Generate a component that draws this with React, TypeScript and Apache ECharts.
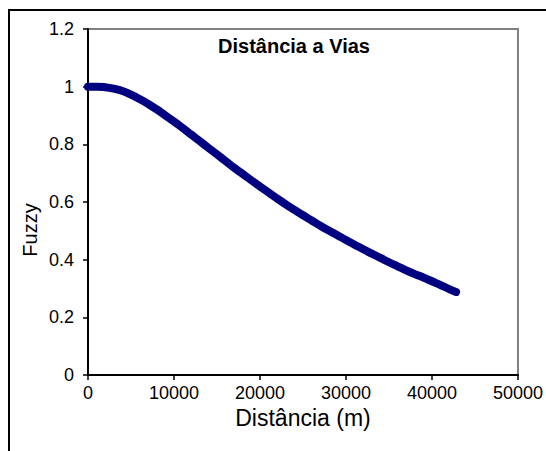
import React, { useEffect, useRef } from "react";
import * as echarts from "echarts";

const distances = [
  0, 1000, 2000, 3000, 4000, 5000, 6000, 7000, 8000, 9000, 10000, 11000, 12000,
  13000, 14000, 15000, 16000, 17000, 18000, 19000, 20000, 21000, 22000, 23000,
  24000, 25000, 26000, 27000, 28000, 29000, 30000, 31000, 32000, 33000, 34000,
  35000, 36000, 37000, 38000, 39000, 40000, 41000, 42000, 42800,
];
const fuzzy = [
  1.0, 1.0, 0.998, 0.993, 0.985, 0.972, 0.957, 0.94, 0.921, 0.9, 0.879, 0.857,
  0.834, 0.811, 0.788, 0.765, 0.742, 0.719, 0.697, 0.675, 0.654, 0.633, 0.612,
  0.592, 0.573, 0.554, 0.536, 0.518, 0.501, 0.485, 0.468, 0.452, 0.436, 0.421,
  0.406, 0.391, 0.377, 0.363, 0.35, 0.338, 0.325, 0.312, 0.298, 0.288,
];
const xTickLabels = ["0", "10000", "20000", "30000", "40000", "50000"];
const yTickLabels = ["0", "0.2", "0.4", "0.6", "0.8", "1", "1.2"];
const chartTitle = "Distância a Vias";
const xTitle = "Distância (m)";
const yTitle = "Fuzzy";

export default function App() {
  const ref = useRef<HTMLDivElement>(null);
  useEffect(() => {
    if (!ref.current) return;
    const chart = echarts.init(ref.current, null, { renderer: "svg" });
    const font = "'Liberation Sans', Arial, sans-serif";
    chart.setOption({
      animation: false,
      backgroundColor: "#ffffff",
      textStyle: { fontFamily: font },
      grid: {
        left: 88,
        top: 29,
        width: 435,
        height: 346,
        show: true,
        borderColor: "#808080",
        borderWidth: 2,
        backgroundColor: "#ffffff",
      },
      xAxis: {
        type: "value",
        min: 0,
        max: 50000,
        interval: 10000,
        axisLine: { show: true, onZero: false, lineStyle: { color: "#000", width: 2 } },
        axisTick: { show: true, inside: false, length: 5, lineStyle: { color: "#000", width: 1.5 } },
        axisLabel: {
          fontSize: 18,
          color: "#000",
          fontFamily: font,
          margin: 9,
          showMaxLabel: true,
          formatter: (v: number) => xTickLabels[Math.round(v / 10000)] ?? String(v),
        },
        splitLine: { show: false },
        name: xTitle,
        nameLocation: "middle",
        nameGap: 28,
        nameTextStyle: { fontSize: 23, color: "#000", fontFamily: font },
      },
      yAxis: {
        type: "value",
        min: 0,
        max: 1.2,
        interval: 0.2,
        axisLine: { show: true, onZero: false, lineStyle: { color: "#000", width: 2 } },
        axisTick: { show: true, inside: false, length: 5, lineStyle: { color: "#000", width: 1.5 } },
        axisLabel: {
          fontSize: 18,
          color: "#000",
          fontFamily: font,
          margin: 14,
          formatter: (v: number) => yTickLabels[Math.round(v / 0.2)] ?? String(v),
        },
        splitLine: { show: false },
      },
      graphic: [
        {
          type: "rect",
          silent: true,
          shape: { x: 9, y: 10, width: 600, height: 500 },
          style: { fill: "none", stroke: "#000", lineWidth: 2 },
          z: 100,
        },
        {
          type: "text",
          x: 294,
          y: 46,
          style: {
            text: chartTitle,
            font: `bold 20px ${font}`,
            fill: "#000",
            textAlign: "center",
            textVerticalAlign: "middle",
          },
        },
        {
          type: "text",
          x: 30,
          y: 230,
          rotation: Math.PI / 2,
          style: {
            text: yTitle,
            font: `20px ${font}`,
            fill: "#000",
            textAlign: "center",
            textVerticalAlign: "middle",
          },
        },
      ],
      series: [
        {
          type: "line",
          data: distances.map((d, i) => [d, fuzzy[i]]),
          showSymbol: false,
          smooth: true,
          clip: false,
          lineStyle: { color: "#000080", width: 8, cap: "round", join: "round" },
        },
      ],
    });
    return () => chart.dispose();
  }, []);
  return (
    <div
      ref={ref}
      style={{ position: "fixed", left: 0, top: 0, width: 546, height: 451 }}
    />
  );
}
